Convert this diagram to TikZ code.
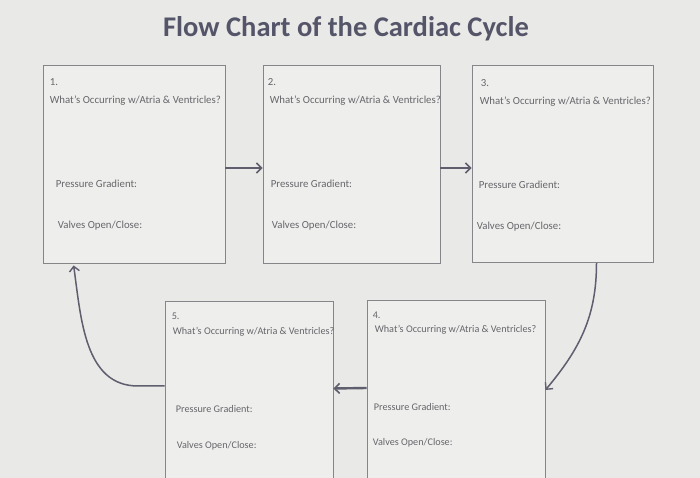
\documentclass[tikz,border=0pt]{standalone}
\usepackage{fontspec}
\setmainfont{Carlito}
\usetikzlibrary{arrows.meta, positioning}

\definecolor{paper}{HTML}{E9E9E7}
\definecolor{boxfill}{HTML}{EEEEEC}
\definecolor{boxline}{HTML}{85858A}
\definecolor{ink}{HTML}{66666C}
\definecolor{titleink}{HTML}{55556A}
\definecolor{arrowink}{HTML}{5E5E6E}

\begin{document}
\begin{tikzpicture}[
    x=1pt, y=1pt,
    stage/.style={rectangle, draw=boxline, fill=boxfill, line width=0.8pt, inner sep=0pt},
    prompt/.style={anchor=base west, inner sep=0pt, text=ink, font=\fontsize{10.8}{12}\selectfont},
    small prompt/.style={prompt, font=\fontsize{10.2}{12}\selectfont},
    arrow/.style={-{Straight Barb[length=5pt, width=10pt, line width=1.6pt]}, line width=2.4pt, draw=arrowink},
    bend arrow/.style={-{Straight Barb[length=5pt, width=10pt, line width=1.4pt]}, line width=1.5pt, draw=arrowink}
]
    \fill[paper] (0,0) rectangle (700,478);
    \clip (0,0) rectangle (700,478);

    \node[font=\fontsize{28.5}{32}\selectfont\bfseries, text=titleink] (title) at (346,449) {Flow Chart of the Cardiac Cycle};

    % top row
    \node[stage, minimum width=182pt, minimum height=198pt] (s1) at (134,314) {};
    \node[stage, minimum width=177pt, minimum height=198pt] (s2) at (351.5,314) {};
    \node[stage, minimum width=181pt, minimum height=197pt] (s3) at (562.5,314) {};
    % bottom row
    \node[stage, minimum width=168pt, minimum height=183pt] (s5) at (249,85.5) {};
    \node[stage, minimum width=178pt, minimum height=184pt] (s4) at (456,86) {};

    % box texts
    \node[prompt] (s1num) at ([xshift=7pt, yshift=-21pt]s1.north west) {1.};
    \node[prompt] (s1what) at ([xshift=7pt, yshift=-39pt]s1.north west) {What’s Occurring w/Atria \& Ventricles?};
    \node[prompt] (s1press) at ([xshift=13pt, yshift=-123pt]s1.north west) {Pressure Gradient:};
    \node[prompt] (s1valve) at ([xshift=15pt, yshift=-164pt]s1.north west) {Valves Open/Close:};

    \node[prompt] (s2num) at ([xshift=5pt, yshift=-21pt]s2.north west) {2.};
    \node[prompt] (s2what) at ([xshift=7pt, yshift=-39pt]s2.north west) {What’s Occurring w/Atria \& Ventricles?};
    \node[prompt] (s2press) at ([xshift=8pt, yshift=-123pt]s2.north west) {Pressure Gradient:};
    \node[prompt] (s2valve) at ([xshift=9pt, yshift=-164pt]s2.north west) {Valves Open/Close:};

    \node[prompt] (s3num) at ([xshift=9pt, yshift=-21pt]s3.north west) {3.};
    \node[prompt] (s3what) at ([xshift=8pt, yshift=-39pt]s3.north west) {What’s Occurring w/Atria \& Ventricles?};
    \node[prompt] (s3press) at ([xshift=7pt, yshift=-123pt]s3.north west) {Pressure Gradient:};
    \node[prompt] (s3valve) at ([xshift=5pt, yshift=-164pt]s3.north west) {Valves Open/Close:};

    \node[small prompt] (s5num) at ([xshift=7pt, yshift=-19pt]s5.north west) {5.};
    \node[small prompt] (s5what) at ([xshift=8pt, yshift=-34pt]s5.north west) {What’s Occurring w/Atria \& Ventricles?};
    \node[small prompt] (s5press) at ([xshift=11pt, yshift=-112pt]s5.north west) {Pressure Gradient:};
    \node[small prompt] (s5valve) at ([xshift=12pt, yshift=-148pt]s5.north west) {Valves Open/Close:};

    \node[small prompt] (s4num) at ([xshift=6pt, yshift=-19pt]s4.north west) {4.};
    \node[small prompt] (s4what) at ([xshift=8pt, yshift=-33pt]s4.north west) {What’s Occurring w/Atria \& Ventricles?};
    \node[small prompt] (s4press) at ([xshift=7pt, yshift=-111pt]s4.north west) {Pressure Gradient:};
    \node[small prompt] (s4valve) at ([xshift=6pt, yshift=-146pt]s4.north west) {Valves Open/Close:};

    % connectors
    \coordinate (bend5) at (138,92);
    \draw[arrow] ([yshift=-4pt]s1.east) -- ([yshift=-4pt]s2.west);
    \draw[arrow] ([yshift=-4pt]s2.east) -- ([yshift=-4pt]s3.west);
    \draw[bend arrow] ([xshift=34pt]s3.south) to[out=-90, in=50] ([yshift=2pt]s4.east);
    \draw[arrow] ([yshift=4pt]s4.west) -- ([yshift=4pt]s5.east);
    \draw[bend arrow] ([yshift=6.5pt]s5.west) -- (bend5) to[out=180, in=-82] ([xshift=31pt, yshift=-2pt]s1.south west);
\end{tikzpicture}
\end{document}
